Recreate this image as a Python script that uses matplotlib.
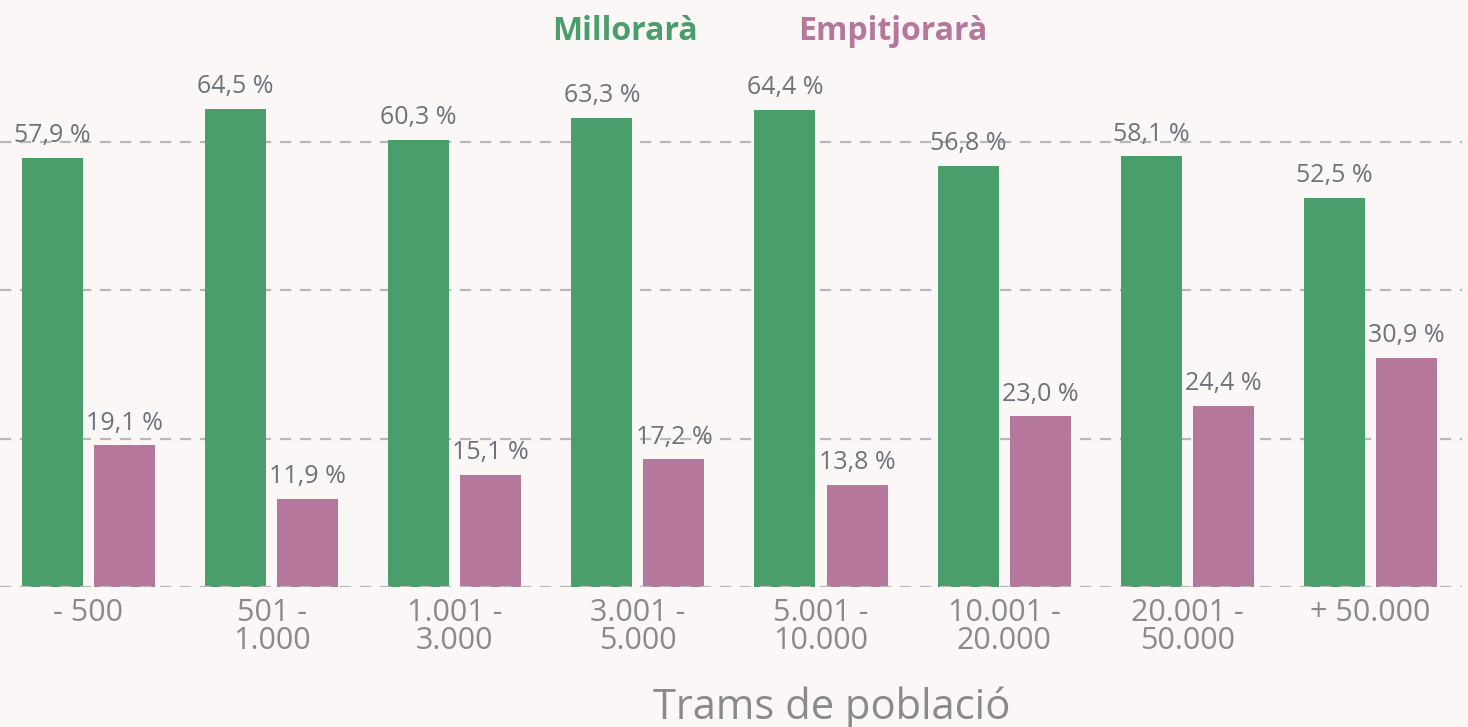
import numpy as np
import matplotlib.pyplot as plt

# Data
categories = ["- 500", "501 -\n1.000", "1.001 -\n3.000", "3.001 -\n5.000",
              "5.001 -\n10.000", "10.001 -\n20.000", "20.001 -\n50.000", "+ 50.000"]
millorara = [57.9, 64.5, 60.3, 63.3, 64.4, 56.8, 58.1, 52.5]
empitjorara = [19.1, 11.9, 15.1, 17.2, 13.8, 23.0, 24.4, 30.9]
series_names = ["Millorarà", "Empitjorarà"]

BG = "#faf7f6"
GREEN = "#4a9e6c"
PINK = "#b5779b"

plt.rcParams['font.family'] = ['Open Sans', 'DejaVu Sans']

fig = plt.figure(figsize=(14.68, 7.27), dpi=100, facecolor=BG)
ax = fig.add_axes([0.0, 1 - 587 / 727, 1462 / 1468, (587 - 68) / 727])
ax.set_facecolor(BG)

x = np.arange(len(categories))
w = 0.333
off = 0.197
b1 = ax.bar(x - off, millorara, w, color=GREEN, zorder=2)
b2 = ax.bar(x + off, empitjorara, w, color=PINK, zorder=2)

for bars, vals in [(b1, millorara), (b2, empitjorara)]:
    for b, v in zip(bars, vals):
        ax.annotate(f"{v:.1f} %".replace(".", ","),
                    (b.get_x() + b.get_width() / 2, v),
                    xytext=(0, 7), textcoords="offset points",
                    ha="center", va="bottom", fontsize=18, color="#6d727b")

# dashed gridlines
for yv in [0, 20, 40, 60]:
    ax.axhline(yv, color="#b8b8b8", lw=1.6, ls=(0, (5, 4)),
               zorder=3 if yv == 0 else 1)

ax.set_xlim(-0.483, 7.5)
ax.set_ylim(0, 70)
ax.set_xticks(x)
ax.set_xticklabels(categories, fontsize=22, color="#8a8a8a", linespacing=0.9)
ax.tick_params(axis="x", length=0, pad=8)
ax.set_yticks([])
for s in ax.spines.values():
    s.set_visible(False)

# legend as colored titles
fig.text(625 / 1468, 1 - 31 / 727, series_names[0], color=GREEN,
         fontsize=23, fontweight="bold", ha="center", va="center")
fig.text(893 / 1468, 1 - 31 / 727, series_names[1], color=PINK,
         fontsize=23, fontweight="bold", ha="center", va="center")

fig.text(832 / 1468, 1 - 708 / 727, "Trams de població", color="#8a8a8a",
         fontsize=30, ha="center", va="center")

fig.savefig("out.png", dpi=100, facecolor=BG)
